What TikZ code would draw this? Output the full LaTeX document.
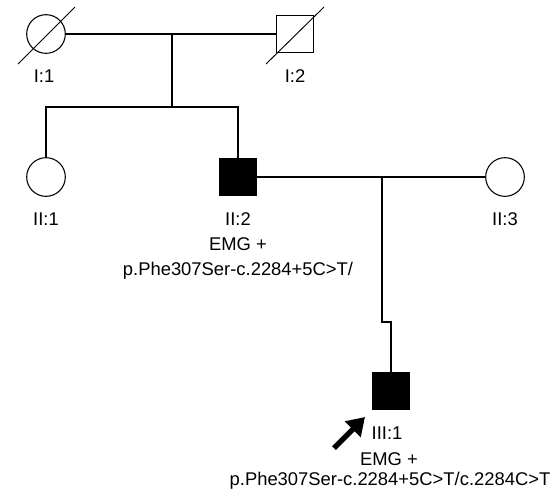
\documentclass[tikz,border=0pt]{standalone}
\usepackage{fontspec}
\setmainfont{Liberation Sans}
\usetikzlibrary{positioning,arrows.meta,calc}

\tikzset{
  female/.style={circle,draw,line width=0.8pt,minimum size=29pt,inner sep=0pt},
  male/.style={rectangle,draw,line width=1.1pt,minimum size=27.5pt,inner sep=0pt},
  affected/.style={fill=black},
  lbl/.style={font=\fontsize{13.8}{16}\selectfont,inner sep=0pt,anchor=base},
  rel/.style={line width=1.4pt},
  deceased/.style={line width=0.7pt}
}

\begin{document}
\begin{tikzpicture}[x=0.75pt,y=-0.75pt,>=Latex]
  \useasboundingbox (0,0) rectangle (555,497);
  % generation I
  \node[female] (i1) at (46,34) {};
  \node[male] (i2) at (295,34) {};
  \draw[deceased] ($(i1)+(-28,30)$) -- ($(i1)+(29,-27)$);
  \draw[deceased] ($(i2)+(-29,30)$) -- ($(i2)+(29,-27)$);
  \node[lbl] at (44,82) {I:1};
  \node[lbl] at (295,82) {I:2};
  \draw[rel] (i1) -- (i2);
  \coordinate (m1) at (172,34);
  \coordinate (sib1) at (172,107);
  \draw[rel] (m1) -- (sib1);

  % generation II
  \node[female] (ii1) at (46,177) {};
  \node[male,affected] (ii2) at (238,177) {};
  \node[female] (ii3) at (505,177) {};
  \draw[rel] (ii1) |- (sib1);
  \draw[rel] (ii2) |- (sib1);
  \draw[rel] (ii2) -- (ii3);
  \node[lbl] at (46,225) {II:1};
  \node[lbl] at (238,225) {II:2};
  \node[lbl] at (238,250) {EMG +};
  \node[lbl] at (238,275) {p.Phe307Ser-c.2284+5C>T/};
  \node[lbl] at (505,225) {II:3};

  % generation III
  \node[male,affected] (iii1) at (391,391) {};
  \coordinate (m2) at (382,177);
  \coordinate (kink) at (382,322);
  \draw[rel] (m2) -- (kink) -| (iii1);
  \node[lbl] at (387,439) {III:1};
  \node[lbl] at (389,465) {EMG +};
  \node[lbl] at (390,485) {p.Phe307Ser-c.2284+5C>T/c.2284C>T};

  % proband
  \coordinate (ptail) at (334,448);
  \coordinate (ptip) at (365,417);
  \draw[line width=4pt,-{Triangle[length=13pt,width=16pt]}] (ptail) -- (ptip);
\end{tikzpicture}
\end{document}
